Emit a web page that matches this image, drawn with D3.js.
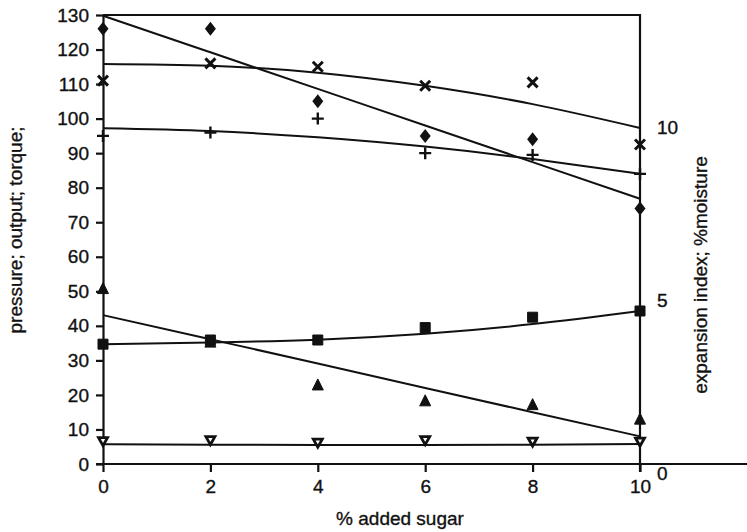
<!DOCTYPE html>
<html>
<head>
<meta charset="utf-8">
<script src="https://cdn.jsdelivr.net/npm/d3@7"></script>
<style>
  html, body { margin: 0; padding: 0; background: #fff; }
  svg { display: block; font-family: "Liberation Sans", Arial, sans-serif; }
  .axis path, .axis line { stroke: #111; stroke-width: 2.2; }
  .axis text { font-size: 19px; fill: #111; }
  text { stroke: #111; stroke-width: 0.35; }
</style>
</head>
<body>
<svg id="chart" width="747" height="532"></svg>
<script>
// % added sugar
const sugar = [0, 2, 4, 6, 8, 10];

// Measured points (left-axis units; right axis reads them /10)
const diamondPts = [126, 126, 105, 95, 94, 74];
const crossPts   = [111, 116, 115, 109.5, 110.5, 92.5];
const plusPts    = [95, 96, 100, 90, 89.5, 84];
const squarePts  = [34.7, 35.9, 35.9, 39.5, 42.5, 44.3];
const trianglePts = [50.5, 35, 22.6, 18, 16.9, 12.7];
const downTriPts = [6.6, 6.9, 6.2, 6.9, 6.5, 6.5];

// Fitted trend curves, sampled at the same sugar levels
const diamondFit  = [129.8, 119.2, 108.6, 98.0, 87.4, 76.8];
const crossFit    = [115.8, 115.3, 113.3, 109.5, 104.2, 97.3];
const plusFit     = [97.2, 96.4, 94.6, 91.9, 88.3, 84.0];
const squareFit   = [34.7, 35.2, 36.0, 37.7, 40.5, 44.3];
const triangleFit = [43.1, 36.1, 29.1, 22.0, 15.0, 8.0];
const downTriFit  = [5.7, 5.6, 5.5, 5.5, 5.6, 5.8];

// Axis tick labels
const leftTicks = d3.range(0, 131, 10);
const bottomTicks = [0, 2, 4, 6, 8, 10];
const rightTicks = [0, 5, 10];

const svg = d3.select("#chart");
const W = 747, H = 532;
const m = { left: 103, right: 107, top: 15, bottom: 68 };

const x = d3.scaleLinear().domain([0, 10]).range([m.left, W - m.right]);
const y = d3.scaleLinear().domain([0, 130]).range([H - m.bottom, m.top]);
const yR = d3.scaleLinear().domain([0, 13]).range([H - m.bottom, m.top]);

// Frame: top and right edges
svg.append("path")
  .attr("d", `M${x(0)},${y(130)}H${x(10)}V${y(0) + 8}`)
  .attr("fill", "none").attr("stroke", "#111").attr("stroke-width", 2.2);

// Left axis
svg.append("g").attr("class", "axis")
  .attr("transform", `translate(${x(0)},0)`)
  .call(d3.axisLeft(y).tickValues(leftTicks).tickSize(7).tickPadding(7).tickSizeOuter(0));

// Bottom axis
const gB = svg.append("g").attr("class", "axis")
  .attr("transform", `translate(0,${y(0)})`)
  .call(d3.axisBottom(x).tickValues(bottomTicks).tickSize(8).tickPadding(8).tickSizeOuter(0));
gB.select(".domain").remove();
svg.append("line")
  .attr("x1", x(0) - 7).attr("x2", W)
  .attr("y1", y(0)).attr("y2", y(0))
  .attr("stroke", "#111").attr("stroke-width", 2.2);

// Right axis labels (no ticks)
svg.append("g").selectAll("text").data(rightTicks).join("text")
  .attr("x", x(10) + 17)
  .attr("y", d => yR(d) + 9)
  .attr("dy", "0.35em")
  .attr("font-size", 19).attr("fill", "#111")
  .text(d => d);

// Axis titles
svg.append("text")
  .attr("transform", `translate(15,230) rotate(-90)`)
  .attr("text-anchor", "middle").attr("dominant-baseline", "central")
  .attr("font-size", 19).attr("fill", "#111")
  .text("pressure; output; torque;");
svg.append("text")
  .attr("transform", `translate(700,275) rotate(-90)`)
  .attr("text-anchor", "middle").attr("dominant-baseline", "central")
  .attr("font-size", 19).attr("fill", "#111")
  .text("expansion index; %moisture");
svg.append("text")
  .attr("x", 400).attr("y", 525)
  .attr("text-anchor", "middle")
  .attr("font-size", 19).attr("fill", "#111")
  .text("% added sugar");

// Trend curves
const line = d3.line().x((d, i) => x(sugar[i])).y(d => y(d)).curve(d3.curveNatural);
const fits = [diamondFit, crossFit, plusFit, squareFit, triangleFit, downTriFit];
svg.append("g").selectAll("path").data(fits).join("path")
  .attr("d", line)
  .attr("fill", "none").attr("stroke", "#111").attr("stroke-width", 2);

// Marker shapes, centred on the data point
const shapes = {
  diamond: ([cx, cy]) => `M${cx},${cy - 7}L${cx + 5.5},${cy}L${cx},${cy + 7}L${cx - 5.5},${cy}Z`,
  cross: ([cx, cy]) => `M${cx - 5},${cy - 5}L${cx + 5},${cy + 5}M${cx + 5},${cy - 5}L${cx - 5},${cy + 5}`,
  plus: ([cx, cy]) => `M${cx - 6},${cy}H${cx + 6}M${cx},${cy - 6}V${cy + 6}`,
  square: ([cx, cy]) => `M${cx - 5},${cy - 5}h10v10h-10Z`,
  triangle: ([cx, cy]) => `M${cx},${cy - 7}L${cx + 5.5},${cy + 4}L${cx - 5.5},${cy + 4}Z`,
  downTri: ([cx, cy]) => `M${cx - 4.5},${cy - 3.5}H${cx + 4.5}L${cx},${cy + 4.5}Z`
};

const series = [
  { vals: diamondPts, shape: "diamond", fill: "#111", stroke: "none", sw: 0 },
  { vals: crossPts, shape: "cross", fill: "none", stroke: "#111", sw: 3 },
  { vals: plusPts, shape: "plus", fill: "none", stroke: "#111", sw: 2.4 },
  { vals: squarePts, shape: "square", fill: "#111", stroke: "#111", sw: 1, join: "round" },
  { vals: trianglePts, shape: "triangle", fill: "#111", stroke: "#111", sw: 1 },
  { vals: downTriPts, shape: "downTri", fill: "#fff", stroke: "#111", sw: 2.8 }
];

series.forEach(s => {
  svg.append("g").selectAll("path")
    .data(s.vals.map((v, i) => [x(sugar[i]), y(v)]))
    .join("path")
    .attr("d", shapes[s.shape])
    .attr("fill", s.fill).attr("stroke", s.stroke).attr("stroke-width", s.sw)
    .attr("stroke-linejoin", s.join || "miter");
});
</script>
</body>
</html>
